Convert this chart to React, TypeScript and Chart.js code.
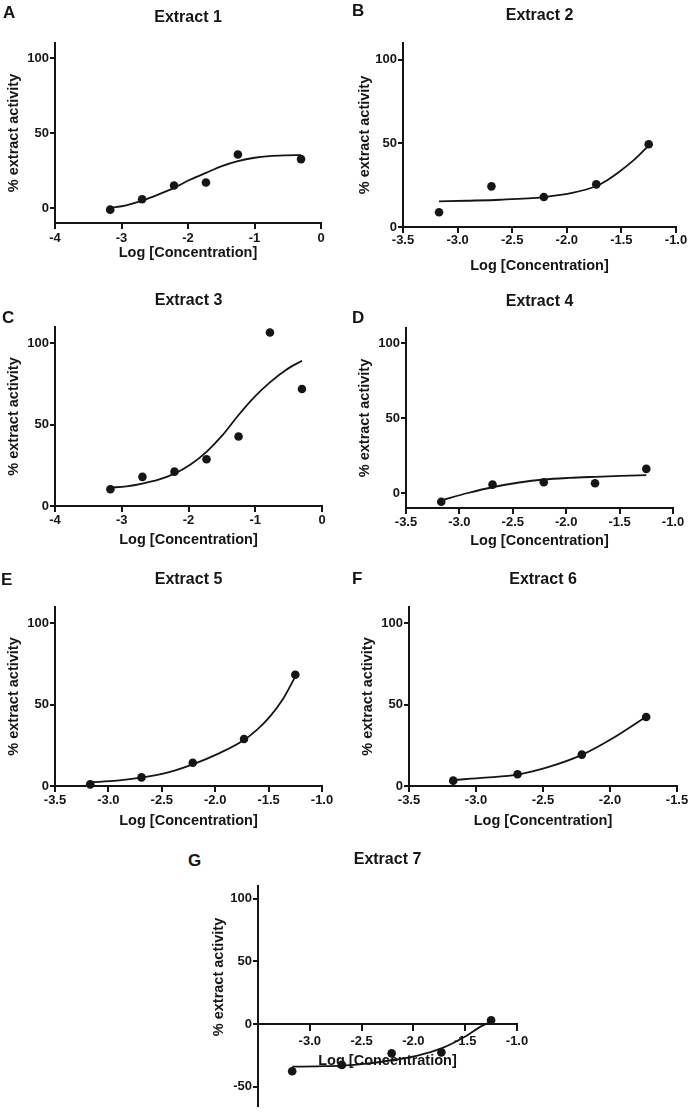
import React, { useEffect, useRef } from 'react';
import { Chart, registerables } from 'chart.js';

Chart.register(...registerables);

const FONT = '"Liberation Sans", Arial, Helvetica, sans-serif';
const INK = '#151515';

// ---------- data ----------
const concX7 = [-3.17, -2.69, -2.21, -1.73, -1.25, -0.78, -0.3];

const ext1X = [-3.17, -2.69, -2.21, -1.73, -1.25, -0.3];
const ext1Y = [-1.1, 5.8, 15.0, 17.0, 35.7, 32.6];
const fit1X = [-3.17, -2.93, -2.69, -2.45, -2.21, -1.97, -1.73, -1.49, -1.25, -1.0, -0.78, -0.54, -0.3];
const fit1Y = [0.0, 1.8, 4.9, 8.9, 13.4, 18.8, 23.4, 27.9, 31.2, 33.5, 34.6, 35.1, 35.3];

const ext2X = [-3.17, -2.69, -2.21, -1.73, -1.25];
const ext2Y = [8.8, 24.3, 17.9, 25.5, 49.5];
const fit2X = [-3.17, -2.92, -2.61, -2.21, -1.94, -1.73, -1.63, -1.51, -1.39, -1.25];
const fit2Y = [15.3, 15.7, 16.3, 17.9, 20.5, 24.5, 28.0, 33.5, 39.8, 48.7];

const ext3X = concX7;
const ext3Y = [10.3, 17.9, 21.1, 28.7, 42.7, 106.6, 71.9];
const fit3X = [-3.17, -2.93, -2.69, -2.45, -2.21, -1.97, -1.73, -1.49, -1.25, -1.0, -0.78, -0.54, -0.3];
const fit3Y = [11.3, 12.1, 13.8, 16.2, 19.9, 25.5, 33.3, 43.5, 55.9, 67.5, 76.0, 83.6, 89.3];

const ext4X = [-3.17, -2.69, -2.21, -1.73, -1.25];
const ext4Y = [-5.8, 5.6, 7.2, 6.5, 16.1];
const fit4X = [-3.17, -2.92, -2.68, -2.44, -2.21, -1.97, -1.73, -1.49, -1.25];
const fit4Y = [-4.9, 0.0, 4.0, 7.0, 9.0, 10.1, 10.8, 11.4, 11.9];

const ext5X = [-3.17, -2.69, -2.21, -1.73, -1.25];
const ext5Y = [1.0, 5.3, 14.3, 28.9, 68.4];
const fit5X = [-3.17, -2.92, -2.68, -2.44, -2.21, -1.97, -1.73, -1.61, -1.49, -1.37, -1.25];
const fit5Y = [2.3, 3.3, 5.3, 8.4, 13.3, 19.9, 28.3, 34.5, 42.5, 53.0, 67.2];

const ext6X = [-3.17, -2.69, -2.21, -1.73];
const ext6Y = [3.3, 7.2, 19.3, 42.4];
const fit6X = [-3.17, -2.93, -2.68, -2.45, -2.21, -1.98, -1.73];
const fit6Y = [3.7, 5.1, 7.2, 11.9, 19.1, 29.3, 42.6];

const ext7X = [-3.17, -2.69, -2.21, -1.73, -1.25];
const ext7Y = [-37.5, -32.5, -23.3, -22.5, 3.0];
const fit7X = [-3.17, -2.93, -2.69, -2.45, -2.21, -1.97, -1.73, -1.5, -1.36, -1.25];
const fit7Y = [-33.9, -33.6, -33.1, -31.5, -28.8, -25.3, -19.4, -9.9, -2.4, 1.9];

const xTicksWide = [-4, -3, -2, -1, 0];
const xTicksMid = [-3.5, -3.0, -2.5, -2.0, -1.5, -1.0];
const xTicksShort = [-3.5, -3.0, -2.5, -2.0, -1.5];
const yTicksMain = [0, 50, 100];
const yTicksNeg = [-50, 0, 50, 100];

const panelLetters = ['A', 'B', 'C', 'D', 'E', 'F', 'G'];
const panelTitles = ['Extract 1', 'Extract 2', 'Extract 3', 'Extract 4', 'Extract 5', 'Extract 6', 'Extract 7'];
const xAxisTitle = 'Log [Concentration]';
const yAxisTitle = '% extract activity';

// ---------- panel specs ----------
type Geo = {
  L: number; R: number; T: number; B: number;
  Wy: number; Hx: number; titleY: number; tickPad: number;
  letterX: number; letterBase: number;
  yTitleY?: number; // page y of y-title centre when it is not centred on the axis
};
type Spec = {
  idx: number;
  px: number[]; py: number[]; fx: number[]; fy: number[];
  xMin: number; xMax: number; yMin: number; yMax: number;
  xTicks: number[]; yTicks: number[]; decimals: number;
  hideFirstX?: boolean; axisAtZero?: boolean;
  g: Geo;
};

const specs: Spec[] = [
  { idx: 0, px: ext1X, py: ext1Y, fx: fit1X, fy: fit1Y, xMin: -4, xMax: 0, yMin: -10, yMax: 110, xTicks: xTicksWide, yTicks: yTicksMain, decimals: 0,
    g: { L: 55, R: 321, T: 43, B: 223, Wy: 50, Hx: 39, titleY: 18, tickPad: 1.2, letterX: 3, letterBase: 18.3 } },
  { idx: 1, px: ext2X, py: ext2Y, fx: fit2X, fy: fit2Y, xMin: -3.5, xMax: -1.0, yMin: 0, yMax: 110, xTicks: xTicksMid, yTicks: yTicksMain, decimals: 1,
    g: { L: 403, R: 676, T: 43, B: 227, Wy: 47, Hx: 48, titleY: 16, tickPad: -0.5, letterX: 352, letterBase: 16.7 } },
  { idx: 2, px: ext3X, py: ext3Y, fx: fit3X, fy: fit3Y, xMin: -4, xMax: 0, yMin: 0, yMax: 110, xTicks: xTicksWide, yTicks: yTicksMain, decimals: 0,
    g: { L: 55, R: 322, T: 327, B: 506, Wy: 50, Hx: 43, titleY: 301, tickPad: 0.2, letterX: 2, letterBase: 323 } },
  { idx: 3, px: ext4X, py: ext4Y, fx: fit4X, fy: fit4Y, xMin: -3.5, xMax: -1.0, yMin: -10, yMax: 110, xTicks: xTicksMid, yTicks: yTicksMain, decimals: 1,
    g: { L: 406, R: 673, T: 328, B: 508, Wy: 50, Hx: 42, titleY: 302, tickPad: 0.2, letterX: 352, letterBase: 323 } },
  { idx: 4, px: ext5X, py: ext5Y, fx: fit5X, fy: fit5Y, xMin: -3.5, xMax: -1.0, yMin: 0, yMax: 110, xTicks: xTicksMid, yTicks: yTicksMain, decimals: 1,
    g: { L: 55, R: 322, T: 607, B: 786, Wy: 50, Hx: 44, titleY: 580, tickPad: 0.2, letterX: 1, letterBase: 585 } },
  { idx: 5, px: ext6X, py: ext6Y, fx: fit6X, fy: fit6Y, xMin: -3.5, xMax: -1.5, yMin: 0, yMax: 110, xTicks: xTicksShort, yTicks: yTicksMain, decimals: 1,
    g: { L: 409, R: 677, T: 607, B: 786, Wy: 50, Hx: 44, titleY: 580, tickPad: 0.2, letterX: 352, letterBase: 584 } },
  { idx: 6, px: ext7X, py: ext7Y, fx: fit7X, fy: fit7Y, xMin: -3.5, xMax: -1.0, yMin: -65, yMax: 110, xTicks: xTicksMid, yTicks: yTicksNeg, decimals: 1,
    hideFirstX: true, axisAtZero: true,
    g: { L: 258, R: 517, T: 886, B: 1104, Wy: 48, Hx: 46, titleY: 860, tickPad: 4, letterX: 188, letterBase: 866.7, yTitleY: 977 } },
];

const TITLE_SIZE = 16;
const TICK_SIZE = 13;
const AXIS_TITLE_SIZE = 14.5;
const PAD_RIGHT = 18;
const X_TICK_LEN = 6;

// draws the y-axis title at a chosen height (used where the original title is off-centre)
const offsetYTitle = {
  id: 'offsetYTitle',
  afterDraw(chart: any, _args: any, opts: any) {
    if (!opts || opts.pageY == null) return;
    const ctx = chart.ctx as CanvasRenderingContext2D;
    const y = opts.pageY - opts.canvasTop;
    const x = chart.scales.y.left + (AXIS_TITLE_SIZE * 1.2) / 2;
    ctx.save();
    ctx.translate(x, y);
    ctx.rotate(-Math.PI / 2);
    ctx.font = `bold ${AXIS_TITLE_SIZE}px ${FONT}`;
    ctx.fillStyle = INK;
    ctx.textAlign = 'center';
    ctx.textBaseline = 'middle';
    ctx.fillText(opts.text, 0, 0);
    ctx.restore();
  },
};

function Panel({ spec }: { spec: Spec }) {
  const ref = useRef<HTMLCanvasElement>(null);
  const g = spec.g;
  const half = (TITLE_SIZE * 1.2) / 2;
  const top = Math.floor(g.titleY - half - 2);
  const left = g.L - g.Wy;
  const width = g.R - g.L + g.Wy + PAD_RIGHT;
  // a floating x axis (crossing at y = 0) only keeps its tick length below the plot
  const height = g.B + (spec.axisAtZero ? X_TICK_LEN : g.Hx) - top;

  useEffect(() => {
    if (!ref.current) return;
    const padTop = g.titleY - half - top;
    const padBottom = g.T - (g.titleY + half);
    const tickFont = { family: FONT, size: TICK_SIZE, weight: 'bold' as const };
    const axisFont = { family: FONT, size: AXIS_TITLE_SIZE, weight: 'bold' as const };
    const customYTitle = g.yTitleY != null;
    const chart = new Chart(ref.current, {
      type: 'scatter',
      plugins: [offsetYTitle],
      data: {
        datasets: [
          {
            type: 'line',
            data: spec.fx.map((x, i) => ({ x, y: spec.fy[i] })),
            borderColor: INK,
            borderWidth: 1.8,
            pointRadius: 0,
            fill: false,
            showLine: true,
            cubicInterpolationMode: 'monotone',
            clip: false as any,
            order: 2,
          } as any,
          {
            type: 'scatter',
            data: spec.px.map((x, i) => ({ x, y: spec.py[i] })),
            backgroundColor: INK,
            borderColor: INK,
            borderWidth: 0,
            pointRadius: 4.3,
            showLine: false,
            clip: false as any,
            order: 1,
          } as any,
        ],
      },
      options: {
        animation: false,
        responsive: false,
        events: [],
        layout: { padding: { left: 0, right: PAD_RIGHT, top: 0, bottom: 0 } },
        plugins: {
          legend: { display: false },
          tooltip: { enabled: false },
          title: {
            display: true,
            text: panelTitles[spec.idx],
            fullSize: false,
            color: INK,
            font: { family: FONT, size: TITLE_SIZE, weight: 'bold' },
            padding: { top: padTop, bottom: padBottom },
          },
          offsetYTitle: customYTitle
            ? { pageY: g.yTitleY, canvasTop: top, text: yAxisTitle }
            : { pageY: null },
        },
        scales: {
          x: {
            type: 'linear',
            min: spec.xMin,
            max: spec.xMax,
            position: (spec.axisAtZero ? { y: 0 } : 'bottom') as any,
            afterBuildTicks: (ax: any) => {
              ax.ticks = spec.xTicks.map((v) => ({ value: v }));
            },
            afterFit: (ax: any) => {
              ax.height = g.Hx;
              ax.paddingLeft = 0;
              ax.paddingRight = 0;
              ax.paddingTop = 0;
              ax.paddingBottom = 0;
            },
            ticks: {
              autoSkip: false,
              maxRotation: 0,
              color: INK,
              font: tickFont,
              padding: g.tickPad,
              callback: (v: any, i: number) => {
                if (spec.hideFirstX && i === 0) return '';
                return Number(v).toFixed(spec.decimals);
              },
            },
            grid: {
              display: true,
              drawOnChartArea: false,
              drawTicks: true,
              tickLength: X_TICK_LEN,
              tickWidth: 2,
              tickColor: INK,
              color: INK,
              lineWidth: 2,
            },
            border: { display: true, color: INK, width: 2 },
            title: { display: true, text: xAxisTitle, color: INK, font: axisFont, padding: 0 },
          },
          y: {
            type: 'linear',
            min: spec.yMin,
            max: spec.yMax,
            position: 'left',
            afterBuildTicks: (ax: any) => {
              ax.ticks = spec.yTicks.map((v) => ({ value: v }));
            },
            afterFit: (ax: any) => {
              ax.width = g.Wy;
              ax.paddingTop = 0;
              ax.paddingBottom = 0;
              ax.paddingLeft = 0;
              ax.paddingRight = 0;
            },
            ticks: {
              color: INK,
              font: tickFont,
              padding: 1,
              callback: (v: any) => String(v),
            },
            grid: {
              display: true,
              drawOnChartArea: false,
              drawTicks: true,
              tickLength: 5,
              tickWidth: 2,
              tickColor: INK,
              color: INK,
              lineWidth: 2,
            },
            border: { display: true, color: INK, width: 2 },
            title: { display: !customYTitle, text: yAxisTitle, color: INK, font: axisFont, padding: 0 },
          },
        },
      } as any,
    });
    return () => chart.destroy();
  }, []);

  return (
    <>
      <canvas
        ref={ref}
        width={width}
        height={height}
        style={{ position: 'absolute', left, top, width, height }}
      />
      <div
        style={{
          position: 'absolute',
          left: g.letterX,
          top: g.letterBase - 14.4,
          font: `bold 17px ${FONT}`,
          lineHeight: '17px',
          color: INK,
          whiteSpace: 'nowrap',
        }}
      >
        {panelLetters[spec.idx]}
      </div>
    </>
  );
}

export default function App() {
  useEffect(() => {
    document.body.style.margin = '0';
  }, []);
  return (
    <div
      style={{
        position: 'relative',
        width: 692,
        height: 1113,
        overflow: 'hidden',
        background: '#ffffff',
        fontFamily: FONT,
      }}
    >
      {specs.map((s) => (
        <Panel key={s.idx} spec={s} />
      ))}
    </div>
  );
}
